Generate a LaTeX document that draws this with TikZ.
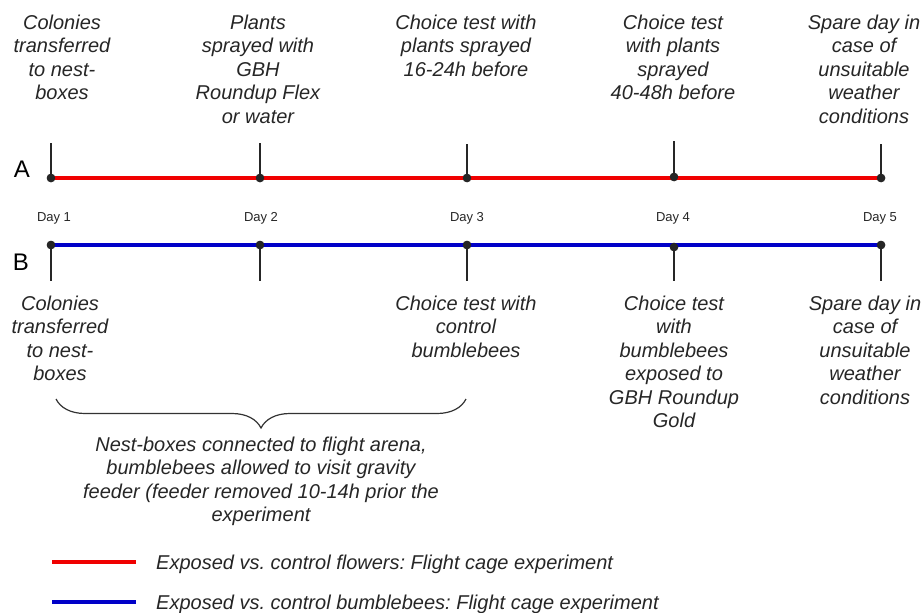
\documentclass[tikz,border=0pt]{standalone}
\usepackage{fontspec}
\setmainfont{Liberation Sans}
\usetikzlibrary{decorations.pathreplacing}
\definecolor{tlred}{RGB}{240,0,0}
\definecolor{tlblue}{RGB}{0,0,200}
\frenchspacing
\begin{document}
\begin{tikzpicture}[x=1pt,y=-1pt,
  lbl/.style={font=\fontsize{20}{23.5}\selectfont\itshape, align=center, inner sep=0pt, anchor=north, text=black!85},
  daylbl/.style={font=\fontsize{13}{15}\selectfont, inner sep=0pt, anchor=base, text=black!85},
  rowlbl/.style={font=\fontsize{24}{28}\selectfont, inner sep=0pt, anchor=base},
  leglbl/.style={font=\fontsize{20}{23.5}\selectfont\itshape, inner sep=0pt, anchor=base west, text=black!85},
  tick/.style={line width=1.4pt, black!85},
  dot/.style={circle, fill=black!85, inner sep=0pt, minimum size=8.5pt},
  redline/.style={line width=4.5pt, tlred},
  blueline/.style={line width=4.5pt, tlblue}
]
\useasboundingbox (0,0) rectangle (921,613);

% tick ends
\foreach \i/\x/\t in {1/51/143, 2/260/143, 3/467/144, 4/674/141, 5/881/144}{
  \coordinate (at\i) at (\x,\t);
  \coordinate (bb\i) at (\x,281);
}
% row A
\node[dot] (a1) at (51,178) {};
\node[dot] (a2) at (260,178) {};
\node[dot] (a3) at (467,178) {};
\node[dot] (a4) at (674,177) {};
\node[dot] (a5) at (881,178) {};
\draw[redline] (a1.center) -- (a5.center);
\foreach \i in {1,...,5}{ \draw[tick] (at\i) -- (a\i.center); \node[dot] at (a\i) {}; }

% row B
\node[dot] (b1) at (51,245) {};
\node[dot] (b2) at (260,245) {};
\node[dot] (b3) at (467,245) {};
\node[dot] (b4) at (674,247) {};
\node[dot] (b5) at (881,245) {};
\draw[blueline] (b1.center) -- (b5.center);
\foreach \i in {1,...,5}{ \draw[tick] (b\i.center) -- (bb\i); \node[dot] at (b\i) {}; }

\node[rowlbl] (A) at (22,177) {A};
\node[rowlbl] (B) at (21,270) {B};

% day labels
\node[daylbl] (d1) at (54,221) {Day 1};
\node[daylbl] (d2) at (261,221) {Day 2};
\node[daylbl] (d3) at (467,221) {Day 3};
\node[daylbl] (d4) at (673,221) {Day 4};
\node[daylbl] (d5) at (880,221) {Day 5};

% top texts
\node[lbl] (t1) at (62,12.5) {\strut Colonies\\transferred\\to nest-\\boxes};
\node[lbl] (t2) at (258,12.5) {\strut Plants\\sprayed with\\GBH\\Roundup Flex\\or water};
\node[lbl] (t3) at (466,12.5) {\strut Choice test with\\plants sprayed\\16-24h before};
\node[lbl] (t4) at (673,12.5) {\strut Choice test\\with plants\\sprayed\\40-48h before};
\node[lbl] (t5) at (864,12.5) {\strut Spare day in\\case of\\unsuitable\\weather\\conditions};

% bottom texts
\node[lbl] (u1) at (60,293.5) {\strut Colonies\\transferred\\to nest-\\boxes};
\node[lbl] (u3) at (466,293.5) {\strut Choice test with\\control\\bumblebees};
\node[lbl] (u4) at (674,293.5) {\strut Choice test\\with\\bumblebees\\exposed to\\GBH Roundup\\Gold};
\node[lbl] (u5) at (865,293.5) {\strut Spare day in\\case of\\unsuitable\\weather\\conditions};

% brace
\coordinate (brL) at (56,399);
\coordinate (brR) at (466,399);
\draw[line width=1.2pt, black!80, decorate, decoration={brace, mirror, amplitude=29pt, aspect=0.5}] (brL) -- (brR);
\node[lbl] (br) at (261,434.5) {\strut Nest-boxes connected to flight arena,\\bumblebees allowed to visit gravity\\feeder (feeder removed 10-14h prior the\\experiment};

% legend
\coordinate (lr1) at (52,562); \coordinate (lr2) at (136,562);
\coordinate (lb1) at (52,602); \coordinate (lb2) at (136,602);
\draw[redline] (lr1) -- (lr2);
\draw[blueline] (lb1) -- (lb2);
\node[leglbl] (l1) at (156,569) {Exposed vs. control flowers: Flight cage experiment};
\node[leglbl] (l2) at (156,609) {Exposed vs. control bumblebees: Flight cage experiment};
\end{tikzpicture}
\end{document}
